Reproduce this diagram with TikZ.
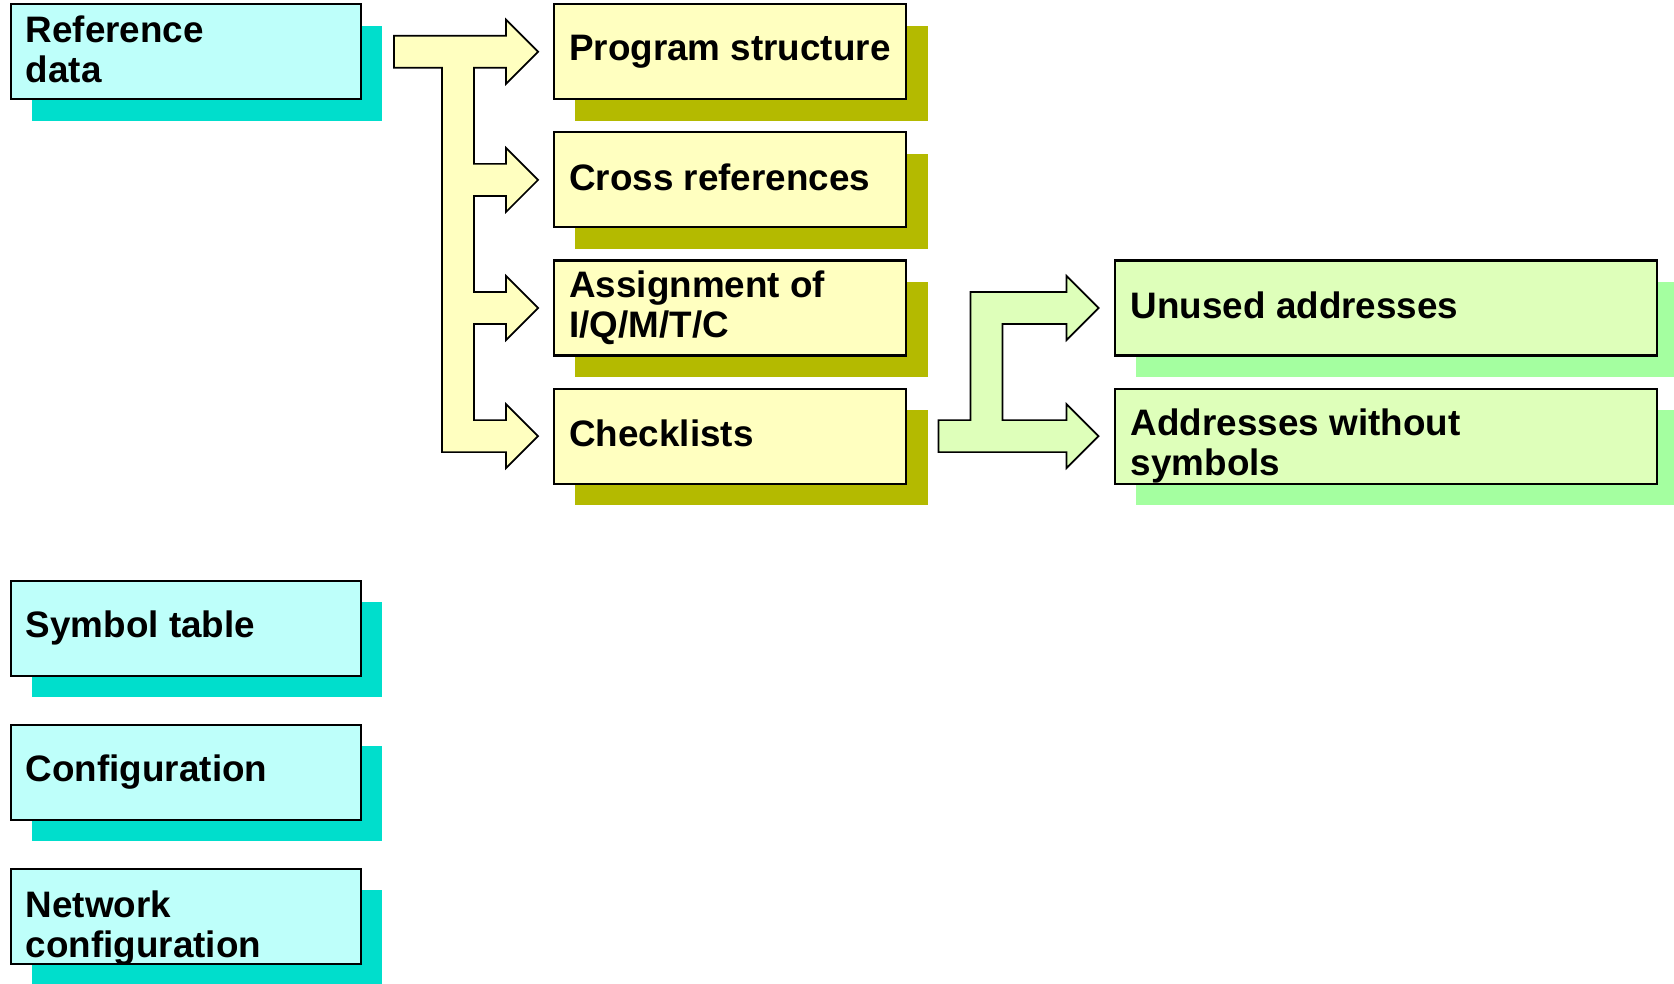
\documentclass[tikz,border=0pt]{standalone}
\usepackage{fontspec}
\setmainfont{Liberation Sans}
\usetikzlibrary{positioning,shadows,calc}

\definecolor{cyanbox}{RGB}{190,255,250}
\definecolor{cyanshade}{RGB}{0,222,204}
\definecolor{yelbox}{RGB}{255,255,192}
\definecolor{yelshade}{RGB}{180,186,0}
\definecolor{grnbox}{RGB}{222,255,186}
\definecolor{grnshade}{RGB}{164,255,160}

\begin{document}
\begin{tikzpicture}[x=1pt,y=-1pt,line join=miter]
	\tikzstyle{box}=[draw=black,line width=2pt,anchor=north west,minimum height=89pt,inner sep=0pt,outer sep=0pt]
	\tikzstyle{src}=[box,minimum width=328pt,fill=cyanbox,drop shadow={shadow xshift=20pt,shadow yshift=-20pt,opacity=1,draw=none,fill=cyanshade}]
	\tikzstyle{res}=[box,minimum width=330pt,fill=yelbox,drop shadow={shadow xshift=20pt,shadow yshift=-20pt,opacity=1,draw=none,fill=yelshade}]
	\tikzstyle{chk}=[box,minimum width=508pt,fill=grnbox,drop shadow={shadow xshift=20pt,shadow yshift=-20pt,opacity=1,draw=none,fill=grnshade}]
	\tikzstyle{txt}=[align=left,inner sep=0pt,font=\fontsize{34.5}{37.5}\selectfont\bfseries]
	\tikzstyle{bigarrow}=[draw=black,line width=1.6pt]
	\useasboundingbox (0,0) rectangle (1568,921);
	% left column
	\node[src] (ref) at (10,4) {};
	\node[src] (sym) at (10,544) {};
	\node[src] (cfg) at (10,679) {};
	\node[src] (net) at (10,814) {};
	% reference data results
	\foreach \n/\y in {prog/4,xref/124,assign/244,check/364}{
	\node[res] (\n) at (519,\y) {};
	}
	\node[chk] (unused) at (1044,244) {};
	\node[chk] (nosym) at (1044,364) {};
	% labels
	\node[txt,right=14pt of ref.west,yshift=2.5pt] (ref-t) {Reference\\data};
	\node[txt,right=14pt of sym.west] (sym-t) {Symbol table};
	\node[txt,right=14pt of cfg.west] (cfg-t) {Configuration};
	\node[txt,right=14pt of net.west,yshift=-11pt] (net-t) {Network\\configuration};
	\node[txt,right=14pt of prog.west] (prog-t) {Program structure};
	\node[txt,right=14pt of xref.west,yshift=2.5pt] (xref-t) {Cross references};
	\node[txt,right=14pt of assign.west] (assign-t) {Assignment of\\I/Q/M/T/C};
	\node[txt,right=14pt of check.west,yshift=2.5pt] (check-t) {Checklists};
	\node[txt,right=15pt of unused.west,yshift=2.5pt] (unused-t) {Unused addresses};
	\node[txt,right=15pt of nosym.west,yshift=-9pt] (nosym-t) {Addresses without\\symbols};
	% branching arrows
	\draw[bigarrow,fill=yelbox] ($(prog.west)+(-150,-15)$)
	\foreach \n in {prog,xref,assign,check}{
	-- ($(\n.west)+(-75,-15)$) -- ($(\n.west)+(-45,-15)$) -- ($(\n.west)+(-45,-30)$)
	-- ($(\n.west)+(-15,0)$) -- ($(\n.west)+(-45,30)$) -- ($(\n.west)+(-45,15)$)
	-- ($(\n.west)+(-75,15)$)}
	-- ($(check.west)+(-105,15)$) -- ($(prog.west)+(-105,15)$) -- ($(prog.west)+(-150,15)$) -- cycle;
	\draw[bigarrow,fill=grnbox] ($(nosym.west)+(-165,-15)$) -- ($(nosym.west)+(-135,-15)$)
	-- ($(unused.west)+(-135,-15)$) -- ($(unused.west)+(-45,-15)$) -- ($(unused.west)+(-45,-30)$)
	-- ($(unused.west)+(-15,0)$) -- ($(unused.west)+(-45,30)$) -- ($(unused.west)+(-45,15)$)
	-- ($(unused.west)+(-105,15)$) -- ($(nosym.west)+(-105,-15)$) -- ($(nosym.west)+(-45,-15)$)
	-- ($(nosym.west)+(-45,-30)$) -- ($(nosym.west)+(-15,0)$) -- ($(nosym.west)+(-45,30)$)
	-- ($(nosym.west)+(-45,15)$) -- ($(nosym.west)+(-165,15)$) -- cycle;
\end{tikzpicture}
\end{document}
